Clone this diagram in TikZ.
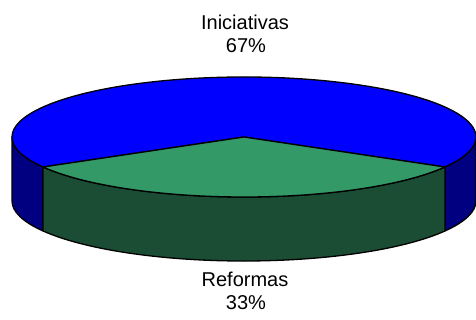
\documentclass[tikz,border=0pt]{standalone}
\usepackage{fontspec}
\setmainfont{Liberation Sans}
\definecolor{topblue}{RGB}{0,0,255}
\definecolor{sideblue}{RGB}{0,0,128}
\definecolor{topgreen}{RGB}{51,153,102}
\definecolor{sidegreen}{RGB}{26,77,51}
\begin{document}
\begin{tikzpicture}[x=1pt,y=1pt,
  edge/.style={draw=black,line width=1.3pt,line join=round},
  lbl/.style={font=\fontsize{20}{23}\selectfont,anchor=base,inner sep=0pt},
  ell/.style={x radius=232pt,y radius=60pt}]
\useasboundingbox (0,0) rectangle (476,320);
\coordinate (c) at (244,183);
% left blue side
\filldraw[edge,fill=sideblue] (c) ++(180:232pt and 60pt)
  arc[ell,start angle=180,end angle=210] -- ++(0,-64pt)
  arc[ell,start angle=210,end angle=180] -- cycle;
% right blue side
\filldraw[edge,fill=sideblue] (c) ++(330:232pt and 60pt)
  arc[ell,start angle=330,end angle=360] -- ++(0,-64pt)
  arc[ell,start angle=360,end angle=330] -- cycle;
% green side
\filldraw[edge,fill=sidegreen] (c) ++(210:232pt and 60pt)
  arc[ell,start angle=210,end angle=330] -- ++(0,-64pt)
  arc[ell,start angle=330,end angle=210] -- cycle;
% top slices
\filldraw[edge,fill=topblue] (c) -- +(330:232pt and 60pt)
  arc[ell,start angle=330,end angle=570] -- cycle;
\filldraw[edge,fill=topgreen] (c) -- +(210:232pt and 60pt)
  arc[ell,start angle=210,end angle=330] -- cycle;
% labels
\node[lbl] (ini) at (245,290) {Iniciativas};
\node[lbl] (inip) at (246,267.5) {67\%};
\node[lbl] (ref) at (245,33) {Reformas};
\node[lbl] (refp) at (246,10) {33\%};
\end{tikzpicture}
\end{document}
